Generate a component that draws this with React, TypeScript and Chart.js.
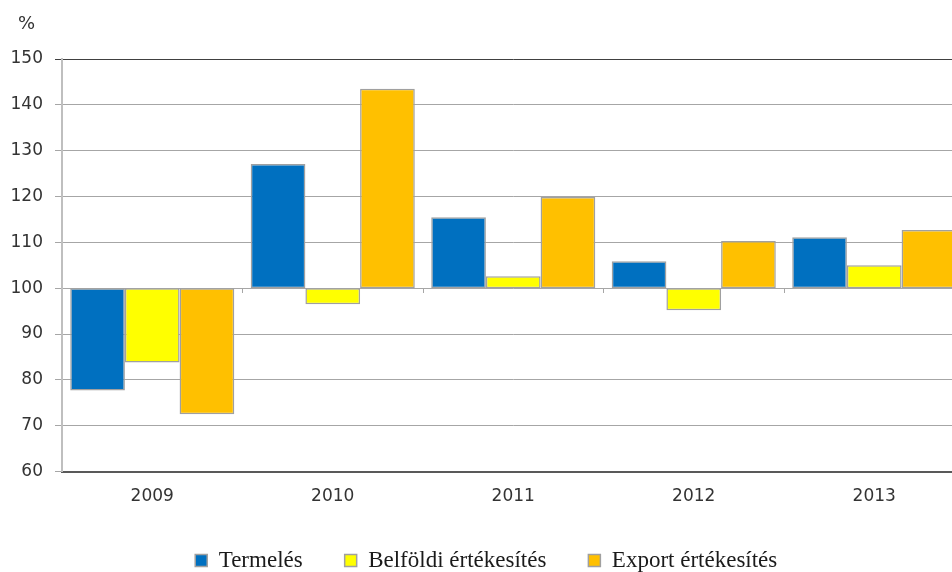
import React, { useEffect, useRef } from "react";
import { Chart, registerables } from "chart.js";

Chart.register(...registerables);

const categories = ["2009", "2010", "2011", "2012", "2013"];
const baseValue = 100;
const termeles = [77.7, 127.1, 115.5, 105.9, 111.1];
const belfoldi = [83.8, 96.5, 102.6, 95.2, 105.0];
const exportErt = [72.5, 143.5, 119.9, 110.3, 112.7];
const seriesNames = ["Termelés", "Belföldi értékesítés", "Export értékesítés"];
const unitLabel = "%";
const yMin = 60;
const yMax = 150;
const yStep = 10;

const unitPlugin = {
  id: "unitLabel",
  afterDraw(chart: any) {
    const ctx = chart.ctx;
    ctx.save();
    ctx.font = "18px 'DejaVu Sans'";
    ctx.fillStyle = "#333";
    ctx.textAlign = "left";
    ctx.textBaseline = "middle";
    ctx.fillText(unitLabel, 18, 24);
    ctx.restore();
  },
};

export default function App() {
  const ref = useRef<HTMLCanvasElement | null>(null);

  useEffect(() => {
    if (!ref.current) return;
    const toRange = (arr: number[]) => arr.map((v) => [baseValue, v]);
    const common = {
      borderColor: "#a0a0a0",
      borderWidth: 1.5,
      borderSkipped: false as const,
      barPercentage: 1,
      categoryPercentage: 0.909,
      xAxisID: "x",
    };
    const chart = new Chart(ref.current, {
      type: "bar",
      data: {
        labels: categories,
        datasets: [
          { ...common, label: seriesNames[0], data: toRange(termeles) as any, backgroundColor: "#0070c0" },
          { ...common, label: seriesNames[1], data: toRange(belfoldi) as any, backgroundColor: "#ffff00" },
          { ...common, label: seriesNames[2], data: toRange(exportErt) as any, backgroundColor: "#ffc000" },
        ],
      },
      plugins: [unitPlugin],
      options: {
        animation: false,
        responsive: false,
        devicePixelRatio: 1,
        layout: { padding: { left: 8, right: 10.5, top: 59, bottom: 0 } },
        plugins: {
          tooltip: { enabled: false },
          legend: {
            position: "bottom",
            labels: {
              boxWidth: 12,
              boxHeight: 12,
              padding: 42,
              color: "#1a1a1a",
              font: { family: "Liberation Serif", size: 23 },
            },
          },
        },
        scales: {
          x: {
            type: "category",
            position: "bottom",
            offset: true,
            grid: { display: false, drawTicks: false },
            border: { display: true, color: "#595959", width: 2 },
            ticks: {
              color: "#333",
              padding: 15,
              font: { family: "DejaVu Sans", size: 17 },
            },
            afterFit: (scale: any) => {
              scale.height = 35.5;
            },
          },
          x2: {
            type: "category",
            position: { y: baseValue } as any,
            offset: true,
            grid: {
              display: true,
              drawOnChartArea: false,
              drawTicks: true,
              tickLength: 5,
              color: "#a6a6a6",
              offset: true,
            },
            border: { display: false },
            ticks: { display: false },
            afterFit: (scale: any) => {
              scale.height = 0;
            },
          },
          y: {
            min: yMin,
            max: yMax,
            ticks: {
              stepSize: yStep,
              padding: 12,
              color: "#333",
              font: { family: "DejaVu Sans", size: 17 },
            },
            grid: {
              tickLength: 7,
              color: (ctx: any) => (ctx.tick && ctx.tick.value === yMax ? "#404040" : "#a6a6a6"),
              lineWidth: 1,
            },
            border: { display: true, color: "#bfbfbf", width: 2 },
            afterFit: (scale: any) => {
              scale.width = 54;
            },
          },
        },
      },
    });
    return () => chart.destroy();
  }, []);

  return (
    <div
      style={{
        position: "fixed",
        left: 0,
        top: 0,
        width: 952,
        height: 572,
        overflow: "hidden",
        background: "#fff",
      }}
    >
      <canvas ref={ref} width={975} height={582} style={{ display: "block" }} />
    </div>
  );
}
